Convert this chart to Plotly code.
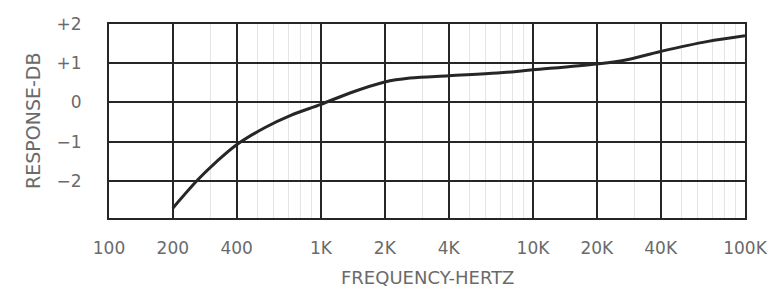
import plotly.graph_objects as go

# Data
freq_hz = [200, 263, 316, 400, 545, 720, 1000, 1370, 2000, 2630, 4000, 6800, 10000, 20000, 26600, 40000, 66000, 100000]
response_db = [-2.7, -1.97, -1.55, -1.08, -0.64, -0.33, -0.05, 0.24, 0.52, 0.62, 0.68, 0.75, 0.83, 0.98, 1.07, 1.3, 1.55, 1.7]

x_tick_vals = [100, 200, 400, 1000, 2000, 4000, 10000, 20000, 40000, 100000]
x_tick_text = ["100", "200", "400", "1K", "2K", "4K", "10K", "20K", "40K", "100K"]
y_tick_vals = [-2, -1, 0, 1, 2]
y_tick_text = ["−2", "−1", "0", "+1", "+2"]
minor_vals = [m * d for d in (100, 1000, 10000) for m in (3, 5, 6, 7, 8, 9)]

ink = "#262626"
label_col = "#6a6a6a"
font_family = "DejaVu Sans"

fig = go.Figure()
fig.add_trace(go.Scatter(
    x=freq_hz, y=response_db, mode="lines",
    line=dict(color=ink, width=3, shape="spline", smoothing=1.0),
    hoverinfo="skip", showlegend=False,
))

fig.update_layout(
    width=774, height=293,
    margin=dict(l=109, r=29, t=24, b=75, autoexpand=False),
    paper_bgcolor="white", plot_bgcolor="white",
    font=dict(family=font_family, color=label_col, size=15),
    showlegend=False,
    annotations=[
        dict(text="FREQUENCY-HERTZ", xref="paper", yref="paper", x=0.5, y=-0.305,
             xanchor="center", yanchor="middle", showarrow=False,
             font=dict(family=font_family, size=18, color=label_col)),
        dict(text="RESPONSE-DB", xref="paper", yref="paper", x=-0.1195, y=0.5,
             xanchor="center", yanchor="middle", showarrow=False, textangle=-90,
             font=dict(family=font_family, size=19, color=label_col)),
    ],
)

fig.update_xaxes(
    type="log", range=[2, 5], automargin=False,
    tickmode="array", tickvals=x_tick_vals, ticktext=x_tick_text,
    showgrid=True, gridcolor=ink, gridwidth=2,
    showline=True, mirror=True, linecolor=ink, linewidth=2,
    ticks="", ticklabelstandoff=14,
    tickfont=dict(size=17, color=label_col),
    minor=dict(tickvals=minor_vals, showgrid=True, gridcolor="rgba(0,0,0,0.10)", gridwidth=1, ticks=""),
    zeroline=False,
)
fig.update_yaxes(
    range=[-2.95, 2.0], automargin=False,
    tickmode="array", tickvals=y_tick_vals, ticktext=y_tick_text,
    showgrid=True, gridcolor=ink, gridwidth=2,
    showline=True, mirror=True, linecolor=ink, linewidth=2,
    ticks="", ticklabelstandoff=22,
    tickfont=dict(size=17, color=label_col),
    zeroline=False,
)

fig.write_html(
    "out.html",
    config={"displayModeBar": False, "staticPlot": True},
    post_script="document.body.style.margin='0';document.body.style.overflow='hidden';",
)
